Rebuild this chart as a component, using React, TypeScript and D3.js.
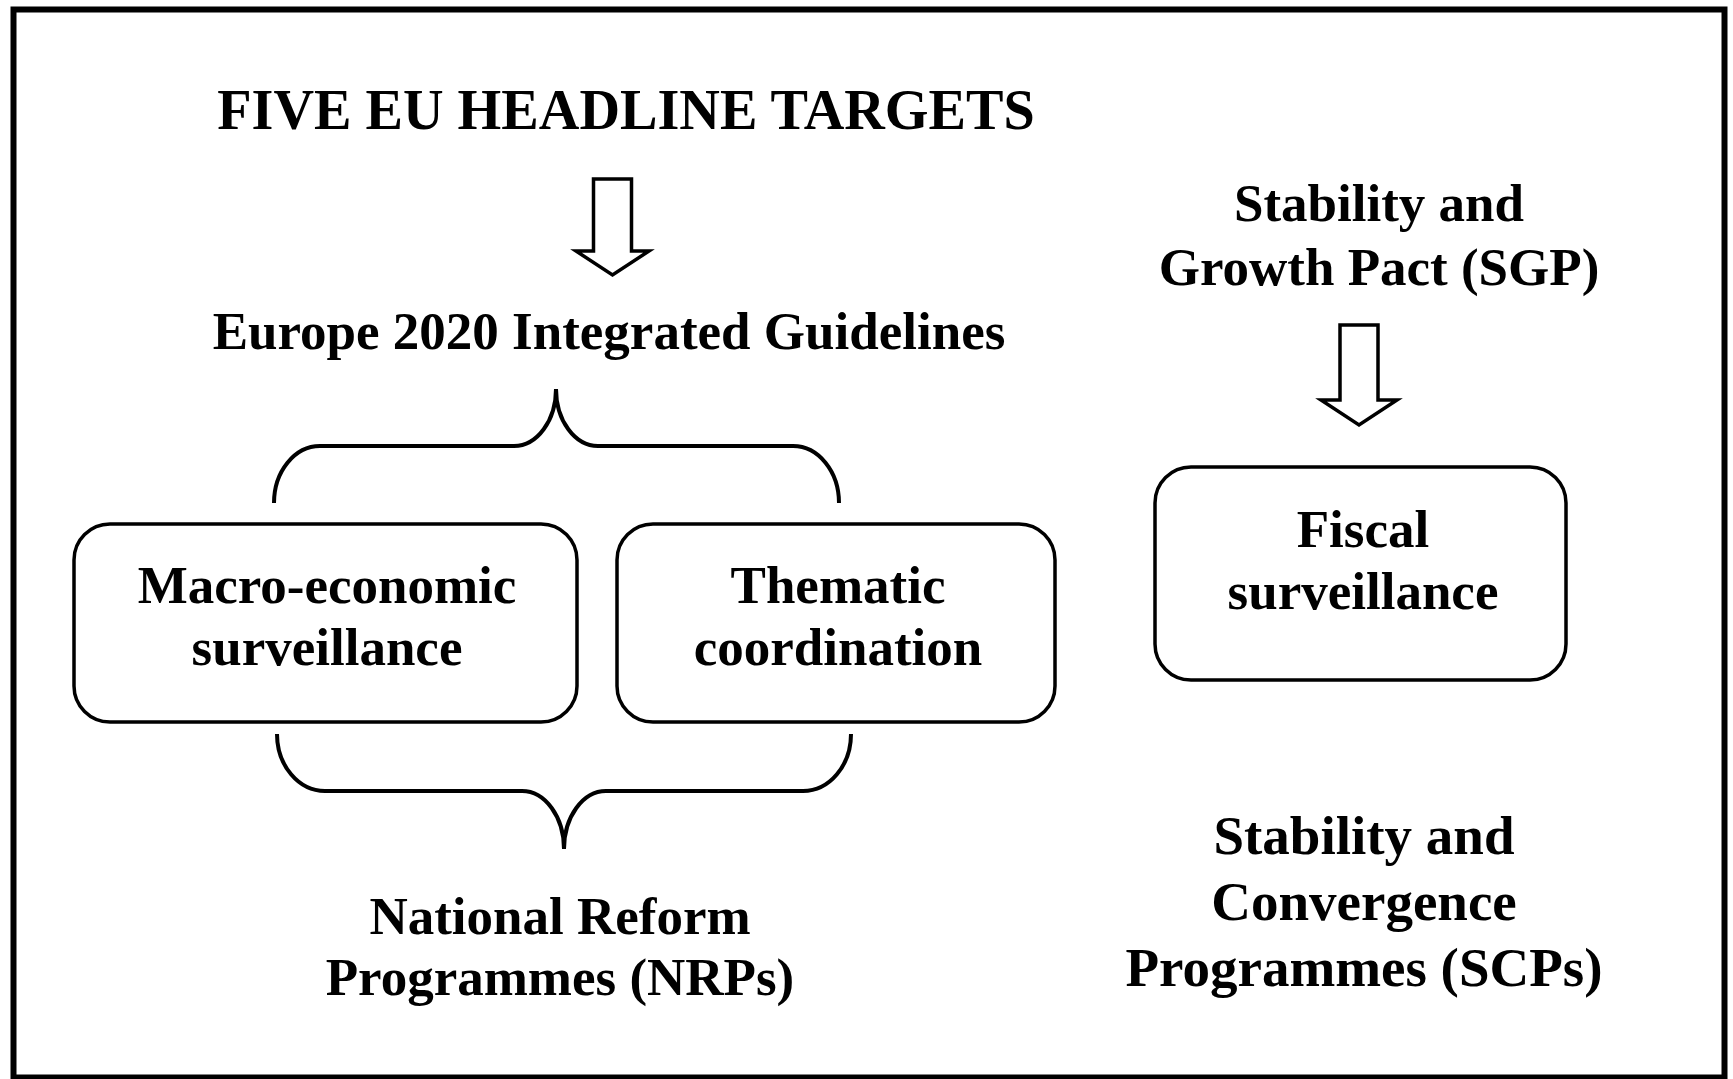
import React from "react";
import * as d3 from "d3";

// ---- content (labels only) ----
const TITLE = "FIVE EU HEADLINE TARGETS";
const GUIDELINES = "Europe 2020 Integrated Guidelines";
const MACRO_LINES = ["Macro-economic", "surveillance"];
const THEMATIC_LINES = ["Thematic", "coordination"];
const NRP_LINES = ["National Reform", "Programmes (NRPs)"];
const SGP_LINES = ["Stability and", "Growth Pact (SGP)"];
const FISCAL_LINES = ["Fiscal", "surveillance"];
const SCP_LINES = ["Stability and", "Convergence", "Programmes (SCPs)"];

// ---- layout ----
const W = 1733;
const H = 1079;
const FONT = "'Liberation Serif', 'Times New Roman', Times, serif";

function quarter(p: d3.Path, from: [number, number], corner: [number, number], to: [number, number]) {
  const k = 0.552;
  p.bezierCurveTo(
    from[0] + k * (corner[0] - from[0]),
    from[1] + k * (corner[1] - from[1]),
    to[0] + k * (corner[0] - to[0]),
    to[1] + k * (corner[1] - to[1]),
    to[0],
    to[1]
  );
}

function bracePath(x0: number, x1: number, cx: number, yEnd: number, yBar: number, yTip: number, rEnd: number, rMid: number) {
  const p = d3.path();
  p.moveTo(x0, yEnd);
  quarter(p, [x0, yEnd], [x0, yBar], [x0 + rEnd, yBar]);
  p.lineTo(cx - rMid, yBar);
  quarter(p, [cx - rMid, yBar], [cx, yBar], [cx, yTip]);
  quarter(p, [cx, yTip], [cx, yBar], [cx + rMid, yBar]);
  p.lineTo(x1 - rEnd, yBar);
  quarter(p, [x1 - rEnd, yBar], [x1, yBar], [x1, yEnd]);
  return p.toString();
}

function arrowPath(cx: number, top: number, headY: number, tipY: number, shaftHalf: number, wingHalf: number) {
  const p = d3.path();
  p.moveTo(cx - shaftHalf, top);
  p.lineTo(cx + shaftHalf, top);
  p.lineTo(cx + shaftHalf, headY);
  p.lineTo(cx + wingHalf, headY);
  p.lineTo(cx, tipY);
  p.lineTo(cx - wingHalf, headY);
  p.lineTo(cx - shaftHalf, headY);
  p.closePath();
  return p.toString();
}

function Lines({ lines, x, y0, step, size }: { lines: string[]; x: number; y0: number; step: number; size: number }) {
  return (
    <g>
      {lines.map((t, i) => (
        <text key={i} x={x} y={y0 + i * step} textAnchor="middle" fontFamily={FONT} fontWeight="bold" fontSize={size} fill="#000">
          {t}
        </text>
      ))}
    </g>
  );
}

export default function App() {
  return (
    <svg width={W} height={H} style={{ position: "absolute", left: 0, top: 0, background: "#fff" }}>
      <rect x={0} y={0} width={W} height={H} fill="#fff" />
      <rect x={13.5} y={9.5} width={1711} height={1068} fill="none" stroke="#000" strokeWidth={6} />

      <Lines lines={[TITLE]} x={626} y0={129} step={0} size={56.2} />
      <path d={arrowPath(612.5, 179, 251, 275, 19, 36.5)} fill="#fff" stroke="#000" strokeWidth={3.5} strokeLinejoin="miter" />
      <Lines lines={[GUIDELINES]} x={609} y0={349} step={0} size={53} />

      <path d={bracePath(274, 839, 556, 503, 446, 389, 46, 42)} fill="none" stroke="#000" strokeWidth={4} />

      <rect x={74} y={524} width={503} height={198} rx={36} ry={36} fill="#fff" stroke="#000" strokeWidth={3.5} />
      <Lines lines={MACRO_LINES} x={327} y0={603} step={62} size={53} />
      <rect x={617} y={524} width={438} height={198} rx={36} ry={36} fill="#fff" stroke="#000" strokeWidth={3.5} />
      <Lines lines={THEMATIC_LINES} x={838} y0={603} step={62} size={53} />

      <path d={bracePath(277, 851, 564, 734, 791, 849, 48, 42)} fill="none" stroke="#000" strokeWidth={4} />

      <Lines lines={NRP_LINES} x={560} y0={934} step={61} size={53} />

      <Lines lines={SGP_LINES} x={1379} y0={221} step={64} size={53} />
      <path d={arrowPath(1359, 325, 400, 425, 19, 38)} fill="#fff" stroke="#000" strokeWidth={3.5} strokeLinejoin="miter" />

      <rect x={1155} y={467} width={411} height={213} rx={36} ry={36} fill="#fff" stroke="#000" strokeWidth={3.5} />
      <Lines lines={FISCAL_LINES} x={1363} y0={547} step={62} size={53} />

      <Lines lines={SCP_LINES} x={1364} y0={854} step={66} size={55} />
    </svg>
  );
}
